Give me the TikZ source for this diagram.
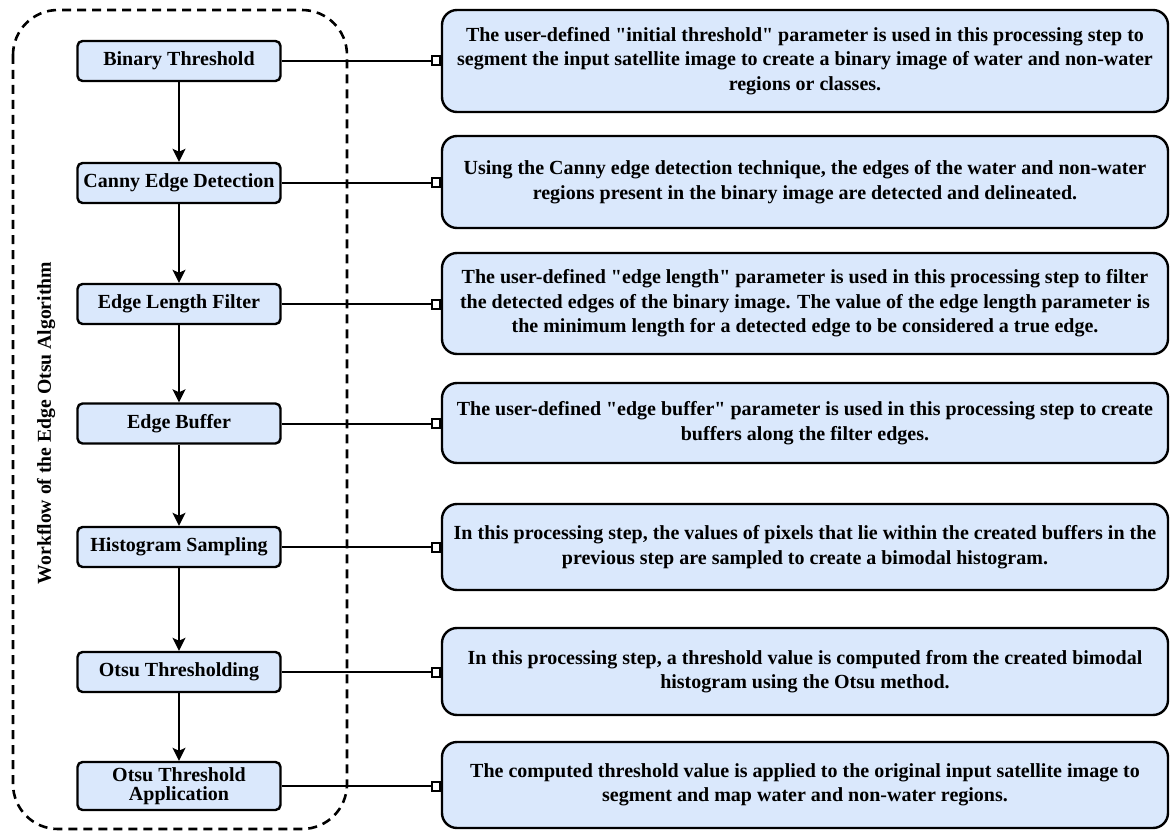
\documentclass[tikz,border=0pt]{standalone}
\usepackage{fontspec}
\setmainfont{Liberation Serif}[Ligatures=TeXOff]
\usetikzlibrary{arrows.meta}
\definecolor{boxfill}{HTML}{DAE8FC}
\tikzset{
  lbox/.style={draw=black, fill=boxfill, line width=2.4pt, rounded corners=5pt,
    minimum width=203pt, minimum height=40pt, inner sep=0pt, align=center,
    font=\fontsize{20}{22}\selectfont\bfseries},
  rbox/.style={draw=black, fill=boxfill, line width=2.4pt, rounded corners=15pt,
    minimum width=726pt, inner sep=0pt, align=center,
    font=\fontsize{20}{24.5}\selectfont\bfseries},
  flow/.style={line width=2pt, -{Stealth[length=13pt,width=13pt,inset=3pt]}},
  link/.style={line width=2pt, -{Square[open,length=10pt,width=11pt,line width=2pt]}},
  frame/.style={line width=2.6pt, dash pattern=on 9pt off 6pt, rounded corners=45pt}
}
\begin{document}
\begin{tikzpicture}[x=1pt,y=-1pt]
\useasboundingbox (0,0) rectangle (1171,832);
\draw[frame] (13,10) rectangle (347,829);
\node[rotate=90, font=\fontsize{19.7}{22}\selectfont\bfseries] (lab) at (46,423) {Workflow of the Edge Otsu Algorithm};

\node[lbox] (l1) at (179,61) {Binary Threshold};
\node[lbox] (l2) at (179,183) {Canny Edge Detection};
\node[lbox] (l3) at (179,304) {Edge Length Filter};
\node[lbox] (l4) at (179,423.5) {Edge Buffer};
\node[lbox] (l5) at (179,547) {Histogram Sampling};
\node[lbox] (l6) at (179,672) {Otsu Thresholding};
\node[lbox, minimum height=48pt] (l7) at (179,786) {Otsu Threshold\\[-3pt]Application};

\node[rbox, minimum height=102pt] (r1) at (805,61) {The user-defined "initial threshold" parameter is used in this processing step to\\segment the input satellite image to create a binary image of water and non-water\\regions or classes.};
\node[rbox, minimum height=92pt] (r2) at (805,182) {Using the Canny edge detection technique, the edges of the water and non-water\\regions present in the binary image are detected and delineated.};
\node[rbox, minimum height=101pt] (r3) at (805,303.5) {The user-defined "edge length" parameter is used in this processing step to filter\\the detected edges of the binary image. The value of the edge length parameter is\\the minimum length for a detected edge to be considered a true edge.};
\node[rbox, minimum height=80pt] (r4) at (805,423) {The user-defined "edge buffer" parameter is used in this processing step to create\\buffers along the filter edges.};
\node[rbox, minimum height=86pt] (r5) at (805,547) {In this processing step, the values of pixels that lie within the created buffers in the\\previous step are sampled to create a bimodal histogram.};
\node[rbox, minimum height=87pt] (r6) at (805,671.5) {In this processing step, a threshold value is computed from the created bimodal\\histogram using the Otsu method.};
\node[rbox, minimum height=86pt] (r7) at (805,785) {The computed threshold value is applied to the original input satellite image to\\segment and map water and non-water regions.};

\foreach \a/\b in {l1/l2,l2/l3,l3/l4,l4/l5,l5/l6,l6/l7}
  \draw[flow] (\a.south) -- (\b.north);
\foreach \i in {1,...,7}
  \draw[link] (l\i.east) -- (l\i.east -| r\i.west);
\end{tikzpicture}
\end{document}
